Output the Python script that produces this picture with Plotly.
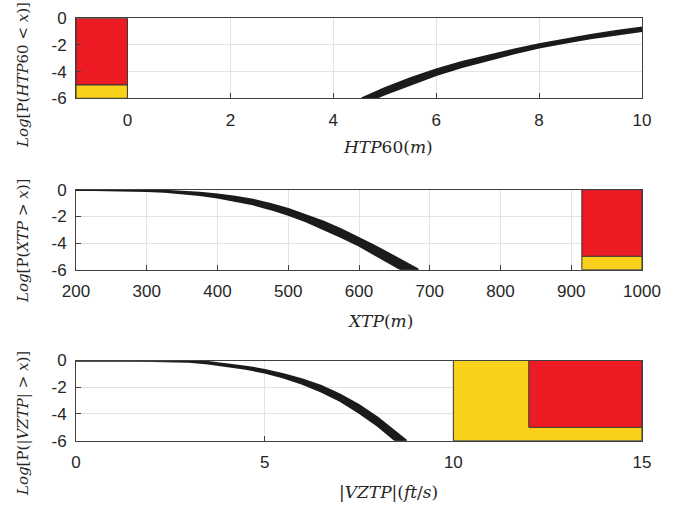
import plotly.graph_objects as go

# ---------------- data ----------------
# Panel 1: Log[P(HTP60 < x)] band (upper / lower edge of the curve bundle)
htp_up_x = [4.55, 5.0, 5.5, 6.0, 6.5, 7.0, 7.5, 8.0, 8.5, 9.0, 9.5, 10.0]
htp_up_y = [-6.0, -5.25, -4.5, -3.83, -3.27, -2.8, -2.35, -1.95, -1.58, -1.25, -0.96, -0.7]
htp_lo_x = [4.82, 5.0, 5.5, 6.0, 6.5, 7.0, 7.5, 8.0, 8.5, 9.0, 9.5, 10.0]
htp_lo_y = [-6.0, -5.7, -4.95, -4.25, -3.65, -3.15, -2.65, -2.2, -1.83, -1.5, -1.21, -0.95]

# Panel 2: Log[P(XTP > x)]
xtp_up_x = [200, 225, 250, 275, 300, 325, 350, 375, 400, 425, 450, 475, 500,
            525, 550, 575, 600, 620, 640, 660, 680, 684]
xtp_up_y = [0.0, -0.003, -0.01, -0.02, -0.04, -0.08, -0.13, -0.22, -0.35, -0.52,
            -0.75, -1.07, -1.45, -1.9, -2.4, -2.97, -3.6, -4.15, -4.72, -5.3, -5.9, -6.0]
xtp_lo_x = [200, 225, 250, 275, 300, 325, 350, 375, 400, 425, 450, 475, 500,
            525, 550, 575, 600, 620, 640, 660]
xtp_lo_y = [-0.02, -0.02, -0.03, -0.05, -0.09, -0.15, -0.25, -0.39, -0.58, -0.82,
            -1.1, -1.46, -1.88, -2.38, -2.95, -3.55, -4.2, -4.8, -5.42, -6.0]

# Panel 3: Log[P(|VZTP| > x)]
vz_up_x = [0.0, 1.0, 1.5, 2.0, 2.5, 3.0, 3.5, 4.0, 4.5, 5.0, 5.5, 6.0, 6.5,
           7.0, 7.5, 8.0, 8.5, 8.76]
vz_up_y = [0.0, 0.0, -0.002, -0.005, -0.015, -0.04, -0.12, -0.27, -0.46, -0.7,
           -1.03, -1.42, -1.91, -2.55, -3.34, -4.29, -5.38, -6.0]
vz_lo_x = [0.0, 1.0, 1.5, 2.0, 2.5, 3.0, 3.5, 4.0, 4.5, 5.0, 5.5, 6.0, 6.5,
           7.0, 7.5, 8.0, 8.47]
vz_lo_y = [-0.02, -0.02, -0.025, -0.03, -0.05, -0.1, -0.22, -0.4, -0.62, -0.9,
           -1.27, -1.75, -2.33, -3.02, -3.9, -4.9, -6.0]

# Zones: (x0, x1, y0, y1)
htp_red = (-1, 0, -5, 0)
htp_yellow = (-1, 0, -6, -5)
xtp_red = (915, 1000, -5, 0)
xtp_yellow = (915, 1000, -6, -5)
vz_yellow = (10, 15, -6, 0)
vz_red = (12, 15, -5, 0)

x1_ticks = [0, 2, 4, 6, 8, 10]
x2_ticks = [200, 300, 400, 500, 600, 700, 800, 900, 1000]
x3_ticks = [0, 5, 10, 15]
y_ticks = [0, -2, -4, -6]

RED = "#ED1C24"
YELLOW = "#F9D11B"
CURVE = "#1c1a1a"
EDGE = "#333333"

fig = go.Figure()


def add_zone(z, color, xa, ya):
    x0, x1, y0, y1 = z
    fig.add_trace(go.Scatter(
        x=[x0, x1, x1, x0, x0], y=[y0, y0, y1, y1, y0], mode="lines",
        fill="toself", fillcolor=color, line=dict(color=EDGE, width=1),
        xaxis=xa, yaxis=ya, showlegend=False, hoverinfo="skip"))


def add_band(ux, uy, lx, ly, xa, ya):
    px = list(ux) + list(lx)[::-1]
    py = list(uy) + list(ly)[::-1]
    fig.add_trace(go.Scatter(
        x=px, y=py, mode="lines", fill="toself", fillcolor=CURVE,
        line=dict(color=CURVE, width=2),
        xaxis=xa, yaxis=ya, showlegend=False, hoverinfo="skip"))


add_zone(htp_red, RED, "x", "y")
add_zone(htp_yellow, YELLOW, "x", "y")
add_band(htp_up_x, htp_up_y, htp_lo_x, htp_lo_y, "x", "y")

add_zone(xtp_red, RED, "x2", "y2")
add_zone(xtp_yellow, YELLOW, "x2", "y2")
add_band(xtp_up_x, xtp_up_y, xtp_lo_x, xtp_lo_y, "x2", "y2")

add_zone(vz_yellow, YELLOW, "x3", "y3")
add_zone(vz_red, RED, "x3", "y3")
add_band(vz_up_x, vz_up_y, vz_lo_x, vz_lo_y, "x3", "y3")

W, H = 692, 510
xdom = [76 / W, 642 / W]


def ydom(top, bot):
    return [1 - bot / H, 1 - top / H]


tickfont = dict(family="Liberation Sans, Arial, sans-serif", size=17, color="#262626")
common_x = dict(showline=True, mirror=True, linecolor="#404040", linewidth=1,
                ticks="inside", ticklen=5, tickcolor="#404040",
                showgrid=True, gridcolor="#e3e3e3", gridwidth=1, automargin=False,
                zeroline=False, tickfont=tickfont, ticklabelstandoff=6, domain=xdom)
common_y = dict(showline=True, mirror=True, linecolor="#404040", linewidth=1,
                ticks="inside", ticklen=5, tickcolor="#404040",
                showgrid=True, gridcolor="#e3e3e3", gridwidth=1, automargin=False,
                zeroline=False, tickfont=tickfont, ticklabelstandoff=5,
                range=[-6, 0], tickvals=y_ticks, ticktext=[str(v) for v in y_ticks])

fig.update_layout(
    width=W, height=H, margin=dict(l=0, r=0, t=0, b=0),
    paper_bgcolor="white", plot_bgcolor="white", showlegend=False,
    xaxis=dict(common_x, range=[-1, 10], tickvals=x1_ticks, anchor="y"),
    yaxis=dict(common_y, domain=ydom(18.3, 98.3), anchor="x"),
    xaxis2=dict(common_x, range=[200, 1000], tickvals=x2_ticks, anchor="y2"),
    yaxis2=dict(common_y, domain=ydom(189.7, 269.7), anchor="x2"),
    xaxis3=dict(common_x, range=[0, 15], tickvals=x3_ticks, anchor="y3"),
    yaxis3=dict(common_y, domain=ydom(360.5, 440.7), anchor="x3"),
)

tfont = dict(family="DejaVu Serif, Liberation Serif, serif", size=17, color="#262626")
ann = [
    ("<i>HTP</i>60(<i>m</i>)", 388, 147, 0),
    ("<i>XTP</i>(<i>m</i>)", 380, 321, 0),
    ("|<i>VZTP</i>|(<i>ft</i>/<i>s</i>)", 388, 492, 0),
    ("<i>Log</i>[P(<i>HTP</i>60 &lt; <i>x</i>)]", 23, 75, -90),
    ("<i>Log</i>[P(<i>XTP</i> &gt; <i>x</i>)]", 23, 241, -90),
    ("<i>Log</i>[P(|<i>VZTP</i>| &gt; <i>x</i>)]", 23, 424, -90),
]
for text, px, py, rot in ann:
    fig.add_annotation(text=text, xref="paper", yref="paper",
                       x=px / W, y=1 - py / H, xanchor="center", yanchor="middle",
                       showarrow=False, textangle=rot,
                       font=dict(tfont, size=17 if rot == 0 else 15))

fig.write_html("out.html")
